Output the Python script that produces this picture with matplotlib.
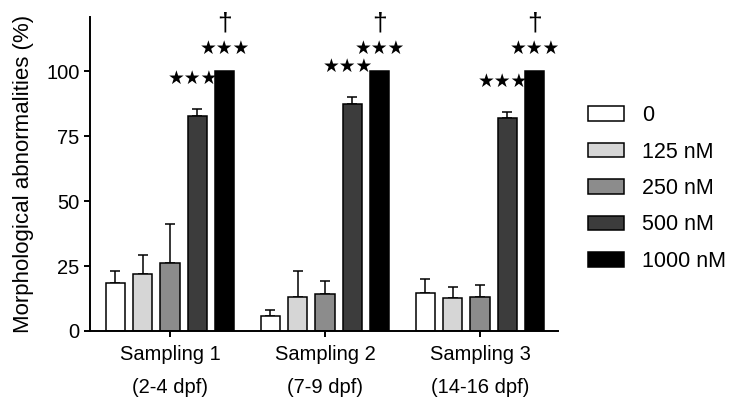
import numpy as np
import matplotlib
matplotlib.use('Agg')
import matplotlib.pyplot as plt

plt.rcParams['font.family'] = ['Liberation Sans', 'DejaVu Sans']

groups = ['Sampling 1\n(2-4 dpf)', 'Sampling 2\n(7-9 dpf)', 'Sampling 3\n(14-16 dpf)']
doses = ['0', '125 nM', '250 nM', '500 nM', '1000 nM']
colors = ['#ffffff', '#d6d6d6', '#8c8c8c', '#3c3c3c', '#000000']

# mean % abnormalities per dose (rows) and sampling (cols)
means = np.array([
    [18.6, 5.8, 14.8],
    [22.0, 13.2, 12.7],
    [26.1, 14.4, 13.2],
    [82.7, 87.5, 82.0],
    [100.0, 100.0, 100.0],
])
# upper error (SD)
errs = np.array([
    [4.6, 2.2, 5.4],
    [7.2, 9.8, 4.4],
    [15.2, 4.9, 4.4],
    [2.7, 2.6, 2.3],
    [0.0, 0.0, 0.0],
])

x = np.arange(len(groups))
step = 0.177
width = 0.123

fig = plt.figure(figsize=(7.31, 3.97), dpi=100)
ax = fig.add_axes([90/731, 1-331/397, (558-90)/731, (331-17)/397])

for i in range(len(doses)):
    pos = x + (i - 2) * step
    ax.bar(pos, means[i], width, color=colors[i], edgecolor='black',
           linewidth=1.1, label=doses[i], zorder=2)
    if i < 4:
        ax.errorbar(pos, means[i], yerr=[np.zeros(3), errs[i]], fmt='none',
                    ecolor='black', elinewidth=1.1, capsize=3.6,
                    capthick=1.1, zorder=1)

# significance marks
for g in x:
    p3 = g + step
    p4 = g + 2 * step
    ax.text(p3 - 0.03, means[3, g] + errs[3, g] + 12, '★★★', ha='center',
            va='center', fontsize=13.5, family=['DejaVu Sans'], clip_on=False)
    ax.text(p4, means[4, g] + 9, '★★★', ha='center', va='center',
            fontsize=13.5, family=['DejaVu Sans'], clip_on=False)
    ax.text(p4, means[4, g] + 18.5, '†', ha='center', va='center',
            fontsize=19, clip_on=False)

ax.set_xlim(-0.516, 2.503)
ax.set_ylim(0, 121)
ax.set_yticks([0, 25, 50, 75, 100])
ax.set_xticks(x)
ax.set_xticklabels(groups, linespacing=1.95, fontsize=15)
ax.set_ylabel('Morphological abnormalities (%)', fontsize=16, labelpad=9)

for s in ['top', 'right']:
    ax.spines[s].set_visible(False)
for s in ['left', 'bottom']:
    ax.spines[s].set_linewidth(1.4)
ax.tick_params(direction='out', length=4, width=1.4, labelsize=14.5)
ax.tick_params(axis='x', pad=6)

ax.legend(loc='upper left', bbox_to_anchor=(588/731, 1-105/397),
          bbox_transform=fig.transFigure, frameon=False, fontsize=15.5,
          handlelength=1.67, handleheight=0.65, handletextpad=0.84,
          labelspacing=0.72, borderpad=0, borderaxespad=0)

fig.savefig('out.png', dpi=100)
